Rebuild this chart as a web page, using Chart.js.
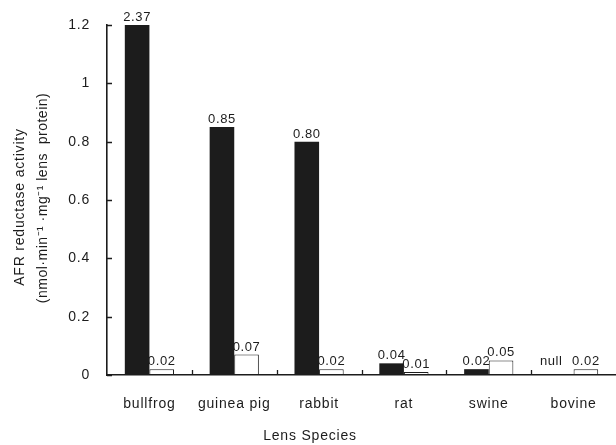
<!DOCTYPE html>
<html>
<head>
<meta charset="utf-8">
<script src="https://cdn.jsdelivr.net/npm/chart.js@4/dist/chart.umd.min.js"></script>
<style>
  html, body { margin:0; padding:0; background:#fff; }
  #wrap { position:relative; width:616px; height:445px; }
</style>
</head>
<body>
<div id="wrap"><canvas id="afr" width="616" height="445"></canvas></div>
<script>
// data
const species = ['bullfrog', 'guinea pig', 'rabbit', 'rat', 'swine', 'bovine'];
const blackVals = [2.37, 0.85, 0.80, 0.04, 0.02, null];
const whiteVals = [0.02, 0.07, 0.02, 0.01, 0.05, 0.02];
const blackLbl = ['2.37', '0.85', '0.80', '0.04', '0.02', 'null'];
const whiteLbl = ['0.02', '0.07', '0.02', '0.01', '0.05', '0.02'];
const yTicks = [0, 0.2, 0.4, 0.6, 0.8, 1, 1.2];

const ff = '"Liberation Sans", Arial, Helvetica, sans-serif';
const ink = '#1c1c1c';

// the scanned lettering is wide, so space the letters a little
const spacing = {
  id: 'spacing',
  beforeLayout(chart) { chart.ctx.letterSpacing = '0.8px'; },
  beforeDraw(chart) { chart.ctx.letterSpacing = '0.8px'; }
};

// value labels, inward tick marks and axis titles
const deco = {
  id: 'deco',
  afterDatasetsDraw(chart) {
    const { ctx, chartArea: ca, scales: { x, y } } = chart;
    ctx.save();
    ctx.letterSpacing = '0.6px';
    ctx.fillStyle = ink;
    ctx.font = '13px ' + ff;
    ctx.textAlign = 'center';
    ctx.textBaseline = 'alphabetic';
    [blackLbl, whiteLbl].forEach((lbls, di) => {
      const meta = chart.getDatasetMeta(di);
      meta.data.forEach((bar, i) => {
        const v = chart.data.datasets[di].data[i];
        if (v == null) {
          ctx.fillText(lbls[i], bar.x - 10, y.getPixelForValue(0) - 10);
        } else {
          ctx.fillText(lbls[i], bar.x, Math.max(bar.y, ca.top) - 4);
        }
      });
    });
    // inward ticks
    ctx.strokeStyle = ink;
    ctx.lineWidth = 1.3;
    ctx.beginPath();
    yTicks.forEach(t => {
      const py = Math.round(y.getPixelForValue(t)) + 0.5;
      ctx.moveTo(ca.left, py); ctx.lineTo(ca.left + 5, py);
    });
    for (let i = 1; i < species.length; i++) {
      const px = Math.round((x.getPixelForValue(i - 1) + x.getPixelForValue(i)) / 2) + 0.5;
      ctx.moveTo(px, ca.bottom); ctx.lineTo(px, ca.bottom - 5);
    }
    ctx.stroke();
    // axis titles
    ctx.letterSpacing = '0.8px';
    ctx.font = '14px ' + ff;
    ctx.textBaseline = 'middle';
    ctx.fillText('Lens Species', 310, 436);
    const cy = (ca.top + ca.bottom) / 2;
    ctx.translate(20, cy + 7);
    ctx.rotate(-Math.PI / 2);
    ctx.fillText('AFR reductase activity', 0, 0);
    ctx.letterSpacing = '0.5px';
    ctx.fillText('(nmol\u00b7min\u207b\u00b9 \u00b7mg\u207b\u00b9 lens  protein)', 9, 23);
    ctx.restore();
  }
};

new Chart(document.getElementById('afr'), {
  type: 'bar',
  data: {
    labels: species,
    datasets: [
      { label: 'black', data: blackVals, backgroundColor: ink, borderColor: ink, borderWidth: 0 },
      { label: 'white', data: whiteVals, backgroundColor: '#fff', borderColor: ink, borderWidth: 1, borderSkipped: false }
    ]
  },
  options: {
    responsive: false,
    animation: false,
    devicePixelRatio: 1,
    layout: { padding: { top: 25, right: 0, left: 0, bottom: 0 } },
    datasets: { bar: { categoryPercentage: 0.58, barPercentage: 1.0 } },
    plugins: { legend: { display: false }, tooltip: { enabled: false } },
    scales: {
      x: {
        grid: { display: false },
        border: { display: true, color: ink, width: 1.6 },
        ticks: { color: ink, font: { size: 14, family: ff }, padding: 13, maxRotation: 0, autoSkip: false },
        afterFit: s => { s.height = 70; }
      },
      y: {
        min: 0, max: 1.2,
        afterBuildTicks: s => { s.ticks = yTicks.map(v => ({ value: v })); },
        grid: { display: false },
        border: { display: true, color: ink, width: 1.6 },
        ticks: { color: ink, font: { size: 14, family: ff }, padding: 9, callback: v => String(v) },
        afterFit: s => { s.width = 107; }
      }
    }
  },
  plugins: [spacing, deco]
});
</script>
</body>
</html>
